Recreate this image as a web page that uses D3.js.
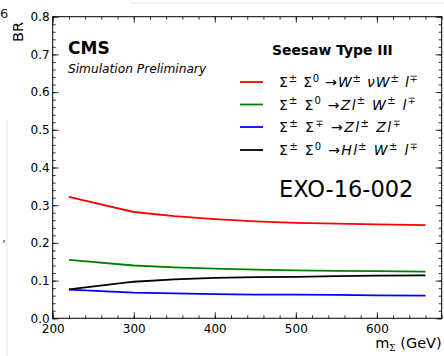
<!DOCTYPE html>
<html>
<head>
<meta charset="utf-8">
<script src="https://cdn.jsdelivr.net/npm/d3@7"></script>
<style>
  html, body { margin: 0; padding: 0; background: #fff; }
  svg { display: block; }
  text { font-family: "DejaVu Sans", sans-serif; }
</style>
</head>
<body>
<svg id="chart" width="444" height="356"></svg>
<script>
// Seesaw type III heavy fermion: branching ratios vs. mass
const masses   = [220, 300, 350, 400, 450, 500, 550, 600, 660];
const brWnuWl  = [0.322, 0.282, 0.271, 0.263, 0.257, 0.253, 0.251, 0.249, 0.247];
const brZlWl   = [0.155, 0.140, 0.135, 0.132, 0.129, 0.127, 0.126, 0.125, 0.124];
const brZlZl   = [0.076, 0.068, 0.066, 0.064, 0.063, 0.063, 0.062, 0.061, 0.060];
const brHlWl   = [0.077, 0.097, 0.103, 0.107, 0.109, 0.110, 0.112, 0.113, 0.114];
const xTicks   = [200, 300, 400, 500, 600];
const yTicks   = [0.0, 0.1, 0.2, 0.3, 0.4, 0.5, 0.6, 0.7, 0.8];

const seriesList = [
  { values: brWnuWl, color: "#ff0000", width: 139,
    label: [["Σ",""],["±","sup"],[" Σ",""],["0","sup"],[" →",""],["W","i"],["±","sup"],[" ν","i"],["W","i"],["±","sup"],[" l","i"],["∓","sup"]] },
  { values: brZlWl, color: "#008000", width: 137,
    label: [["Σ",""],["±","sup"],[" Σ",""],["0","sup"],[" →",""],["Zl","i"],["±","sup"],[" W","i"],["±","sup"],[" l","i"],["∓","sup"]] },
  { values: brZlZl, color: "#0000ff", width: 122,
    label: [["Σ",""],["±","sup"],[" Σ",""],["∓","sup"],[" →",""],["Zl","i"],["±","sup"],[" Zl","i"],["∓","sup"]] },
  { values: brHlWl, color: "#000000", width: 139,
    label: [["Σ",""],["±","sup"],[" Σ",""],["0","sup"],[" →",""],["Hl","i"],["±","sup"],[" W","i"],["±","sup"],[" l","i"],["∓","sup"]] }
];

const svg = d3.select("#chart");
const box = { left: 52.7, right: 441.7, top: 16.7, bottom: 318.3 };

const x = d3.scaleLinear().domain([200, 680]).range([box.left, box.right]);
const y = d3.scaleLinear().domain([0, 0.8]).range([box.bottom, box.top]);

// faint page edges around the plot
svg.append("line").attr("x1", 7).attr("x2", 7).attr("y1", 120).attr("y2", 356)
  .attr("stroke", "#e3ece3").attr("stroke-width", 1.2);
svg.append("line").attr("x1", 130).attr("x2", 444).attr("y1", 3).attr("y2", 3)
  .attr("stroke", "#e6e6e6").attr("stroke-width", 1);
svg.append("text").attr("x", 0).attr("y", 18).attr("font-size", 13).attr("fill", "#222").text("6");
svg.append("text").attr("x", 2).attr("y", 242).attr("font-size", 13).attr("fill", "#555").text(",");

// minor and major inward ticks on all four sides
const minorX = d3.range(200, 681, 20);
const minorY = d3.range(0, 0.801, 0.02);

function tickAxis(axisFn, scale, values, size, transform, labels) {
  const a = axisFn(scale).tickValues(values).tickSizeInner(-size).tickSizeOuter(0).tickPadding(labels ? 3 + size : 0);
  a.tickFormat(labels ? labels : () => "");
  const g = svg.append("g").attr("transform", transform).call(a);
  g.select(".domain").remove();
  g.selectAll(".tick line").attr("stroke", "#000").attr("stroke-width", 0.8);
  g.selectAll("text").attr("font-family", "DejaVu Sans").attr("font-size", 12).attr("fill", "#000");
  return g;
}
tickAxis(d3.axisBottom, x, minorX, 3, `translate(0,${box.bottom})`, null);
tickAxis(d3.axisTop, x, minorX, 3, `translate(0,${box.top})`, null);
tickAxis(d3.axisLeft, y, minorY, 3, `translate(${box.left},0)`, null);
tickAxis(d3.axisRight, y, minorY, 3, `translate(${box.right},0)`, null);

const gx = tickAxis(d3.axisBottom, x, xTicks, 6, `translate(0,${box.bottom})`, d3.format("d"));
gx.selectAll("text").attr("dy", 0).attr("y", 14.5);
tickAxis(d3.axisTop, x, xTicks, 6, `translate(0,${box.top})`, null);
const gy = tickAxis(d3.axisLeft, y, yTicks, 6, `translate(${box.left},0)`, d3.format(".1f"));
gy.selectAll("text").attr("x", -3);
tickAxis(d3.axisRight, y, yTicks, 6, `translate(${box.right},0)`, null);

// frame
svg.append("rect")
  .attr("x", box.left).attr("y", box.top)
  .attr("width", box.right - box.left).attr("height", box.bottom - box.top)
  .attr("fill", "none").attr("stroke", "#000").attr("stroke-width", 1);

// curves
const line = d3.line().x((d, i) => x(masses[i])).y(d => y(d));
seriesList.forEach(s => {
  svg.append("path").datum(s.values)
    .attr("d", line).attr("fill", "none")
    .attr("stroke", s.color).attr("stroke-width", 1.8);
});

// axis titles
svg.append("text").attr("transform", "translate(23,32) rotate(-90)")
  .attr("text-anchor", "middle").attr("font-size", 14.5).text("BR");
const xl = svg.append("text").attr("x", box.right).attr("y", 348)
  .attr("text-anchor", "end").attr("font-size", 14.5);
xl.append("tspan").text("m");
xl.append("tspan").attr("font-size", 9).attr("dy", 3).attr("font-family", "DejaVu Serif").text("Σ");
xl.append("tspan").attr("dy", -3).text(" (GeV)");

// labels inside the frame
svg.append("text").attr("x", 68).attr("y", 54).attr("font-size", 17).attr("font-weight", "bold").text("CMS");
svg.append("text").attr("x", 68).attr("y", 73).attr("font-size", 12.2).attr("font-style", "italic").text("Simulation Preliminary");
svg.append("text").attr("x", 272).attr("y", 55).attr("font-size", 13.9).attr("font-weight", "bold").text("Seesaw Type III");
svg.append("text").attr("x", 279).attr("y", 197).attr("font-size", 22.5).text("EXO-16-002");

// legend
const legY = [82, 104.5, 127, 150];
seriesList.forEach((s, i) => {
  const ly = legY[i];
  svg.append("line").attr("x1", 240).attr("x2", 263).attr("y1", ly).attr("y2", ly)
    .attr("stroke", s.color).attr("stroke-width", 1.8);
  const t = svg.append("text").attr("x", 279).attr("y", ly + 5)
    .attr("font-family", "DejaVu Serif").attr("font-size", 14)
    .attr("textLength", s.width).attr("lengthAdjust", "spacing");
  let raised = false;
  s.label.forEach(([str, kind]) => {
    const ts = t.append("tspan").text(str);
    if (kind === "sup") {
      ts.attr("font-size", 10).attr("dy", raised ? 0 : -5.5);
      raised = true;
    } else {
      if (raised) { ts.attr("dy", 5.5); raised = false; }
      if (kind === "i") ts.attr("font-style", "italic");
    }
  });
});
</script>
</body>
</html>
